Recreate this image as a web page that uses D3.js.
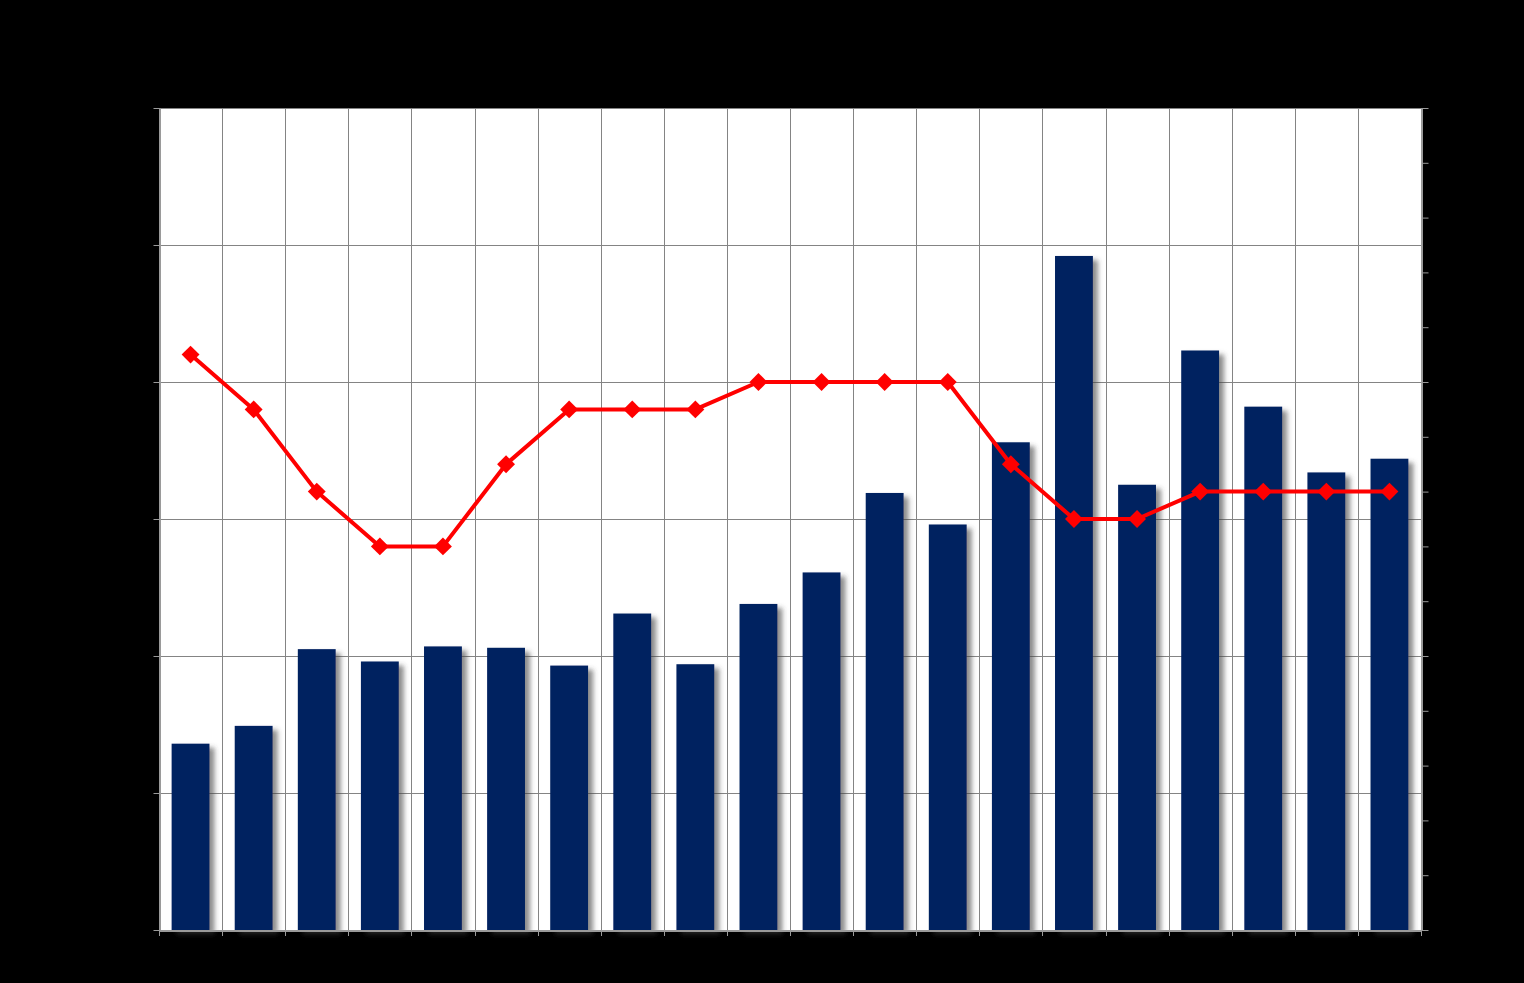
<!DOCTYPE html>
<html>
<head>
<meta charset="utf-8">
<script src="https://cdn.jsdelivr.net/npm/d3@7"></script>
<style>
  html, body { margin: 0; padding: 0; background: #000; }
  svg { display: block; }
</style>
</head>
<body>
<svg id="chart" width="1524" height="983"></svg>
<script>
// ---- data ----
const categories = ["1988","1989","1990","1991","1992","1993","1994","1995","1996","1997",
                    "1998","1999","2000","2001","2002","2003","2004","2005","2006","2007"];
const barValues = [13.6, 14.9, 20.5, 19.6, 20.7, 20.6, 19.3, 23.1, 19.4, 23.8,
                   26.1, 31.9, 29.6, 35.6, 49.2, 32.5, 42.3, 38.2, 33.4, 34.4];
const lineValues = [21, 19, 16, 14, 14, 17, 19, 19, 19, 20,
                    20, 20, 20, 17, 15, 15, 16, 16, 16, 16];
const leftTicks = [0, 10, 20, 30, 40, 50, 60];
const rightTicks = [0, 2, 4, 6, 8, 10, 12, 14, 16, 18, 20, 22, 24, 26, 28, 30];

// ---- layout ----
const svg = d3.select("#chart");
const W = 1524, H = 983;
const m = { left: 159, right: 1421, top: 108, bottom: 930 };

svg.append("rect").attr("width", W).attr("height", H).attr("fill", "#000");

const defs = svg.append("defs");
const f = defs.append("filter").attr("id", "shadow")
  .attr("x", "-20%").attr("y", "-5%").attr("width", "160%").attr("height", "115%");
f.append("feDropShadow").attr("dx", 5).attr("dy", 4).attr("stdDeviation", 2.5)
  .attr("flood-color", "#404040").attr("flood-opacity", 0.6);

const x = d3.scaleBand().domain(categories).range([m.left, m.right])
  .paddingInner(0.4).paddingOuter(0.2);
const xEdge = d3.scalePoint().domain(d3.range(categories.length + 1)).range([m.left, m.right]);
const yL = d3.scaleLinear().domain([0, 60]).range([m.bottom, m.top]);
const yR = d3.scaleLinear().domain([0, 30]).range([m.bottom, m.top]);

// plot background
svg.append("rect").attr("x", m.left).attr("y", m.top)
  .attr("width", m.right - m.left).attr("height", m.bottom - m.top).attr("fill", "#fff");

const gridColor = "#848484";
// horizontal gridlines
svg.append("g").selectAll("line").data(leftTicks).join("line")
  .attr("x1", m.left).attr("x2", m.right)
  .attr("y1", d => Math.round(yL(d)) + 0.5).attr("y2", d => Math.round(yL(d)) + 0.5)
  .attr("stroke", gridColor).attr("stroke-width", 1);
// vertical gridlines at category boundaries
svg.append("g").selectAll("line").data(d3.range(categories.length + 1)).join("line")
  .attr("x1", d => Math.round(xEdge(d)) + 0.5).attr("x2", d => Math.round(xEdge(d)) + 0.5)
  .attr("y1", m.top).attr("y2", m.bottom)
  .attr("stroke", gridColor).attr("stroke-width", 1);

// bars
svg.append("g").selectAll("rect").data(barValues).join("rect")
  .attr("x", (d, i) => x(categories[i]))
  .attr("width", x.bandwidth())
  .attr("y", d => yL(d))
  .attr("height", d => yL(0) - yL(d))
  .attr("fill", "#002060")
  .attr("filter", "url(#shadow)");

// axes
const axisColor = "#9a9a9a";
const leftAxis = svg.append("g").attr("transform", `translate(${m.left + 0.5},0)`)
  .call(d3.axisLeft(yL).tickValues(leftTicks).tickSize(6).tickSizeOuter(0).tickPadding(8));
const rightAxis = svg.append("g").attr("transform", `translate(${m.right + 0.5},0)`)
  .call(d3.axisRight(yR).tickValues(rightTicks).tickSize(7).tickSizeOuter(0).tickPadding(8));
const bottomAxis = svg.append("g").attr("transform", `translate(0,${m.bottom + 0.5})`)
  .call(d3.axisBottom(x).tickSize(0).tickPadding(14));
// boundary ticks on x axis
svg.append("g").selectAll("line").data(d3.range(categories.length + 1)).join("line")
  .attr("x1", d => Math.round(xEdge(d)) + 0.5).attr("x2", d => Math.round(xEdge(d)) + 0.5)
  .attr("y1", m.bottom).attr("y2", m.bottom + 6)
  .attr("stroke", axisColor);

[leftAxis, rightAxis, bottomAxis].forEach(g => {
  g.selectAll("path.domain").attr("stroke", axisColor).attr("stroke-width", 2);
  g.selectAll(".tick line").attr("stroke", axisColor);
  g.selectAll("text").attr("fill", "#000").attr("font-family", "Arial, 'Liberation Sans', sans-serif").attr("font-size", 14);
});

// line series
const cx = (i) => x(categories[i]) + x.bandwidth() / 2;
svg.append("path").datum(lineValues)
  .attr("d", d3.line().x((d, i) => cx(i)).y(d => yR(d)))
  .attr("fill", "none").attr("stroke", "#ff0000").attr("stroke-width", 4)
  .attr("stroke-linejoin", "round");
svg.append("g").selectAll("path").data(lineValues).join("path")
  .attr("d", d3.symbol().type(d3.symbolSquare).size(160))
  .attr("transform", (d, i) => `translate(${cx(i)},${yR(d)}) rotate(45)`)
  .attr("fill", "#ff0000");
</script>
</body>
</html>
